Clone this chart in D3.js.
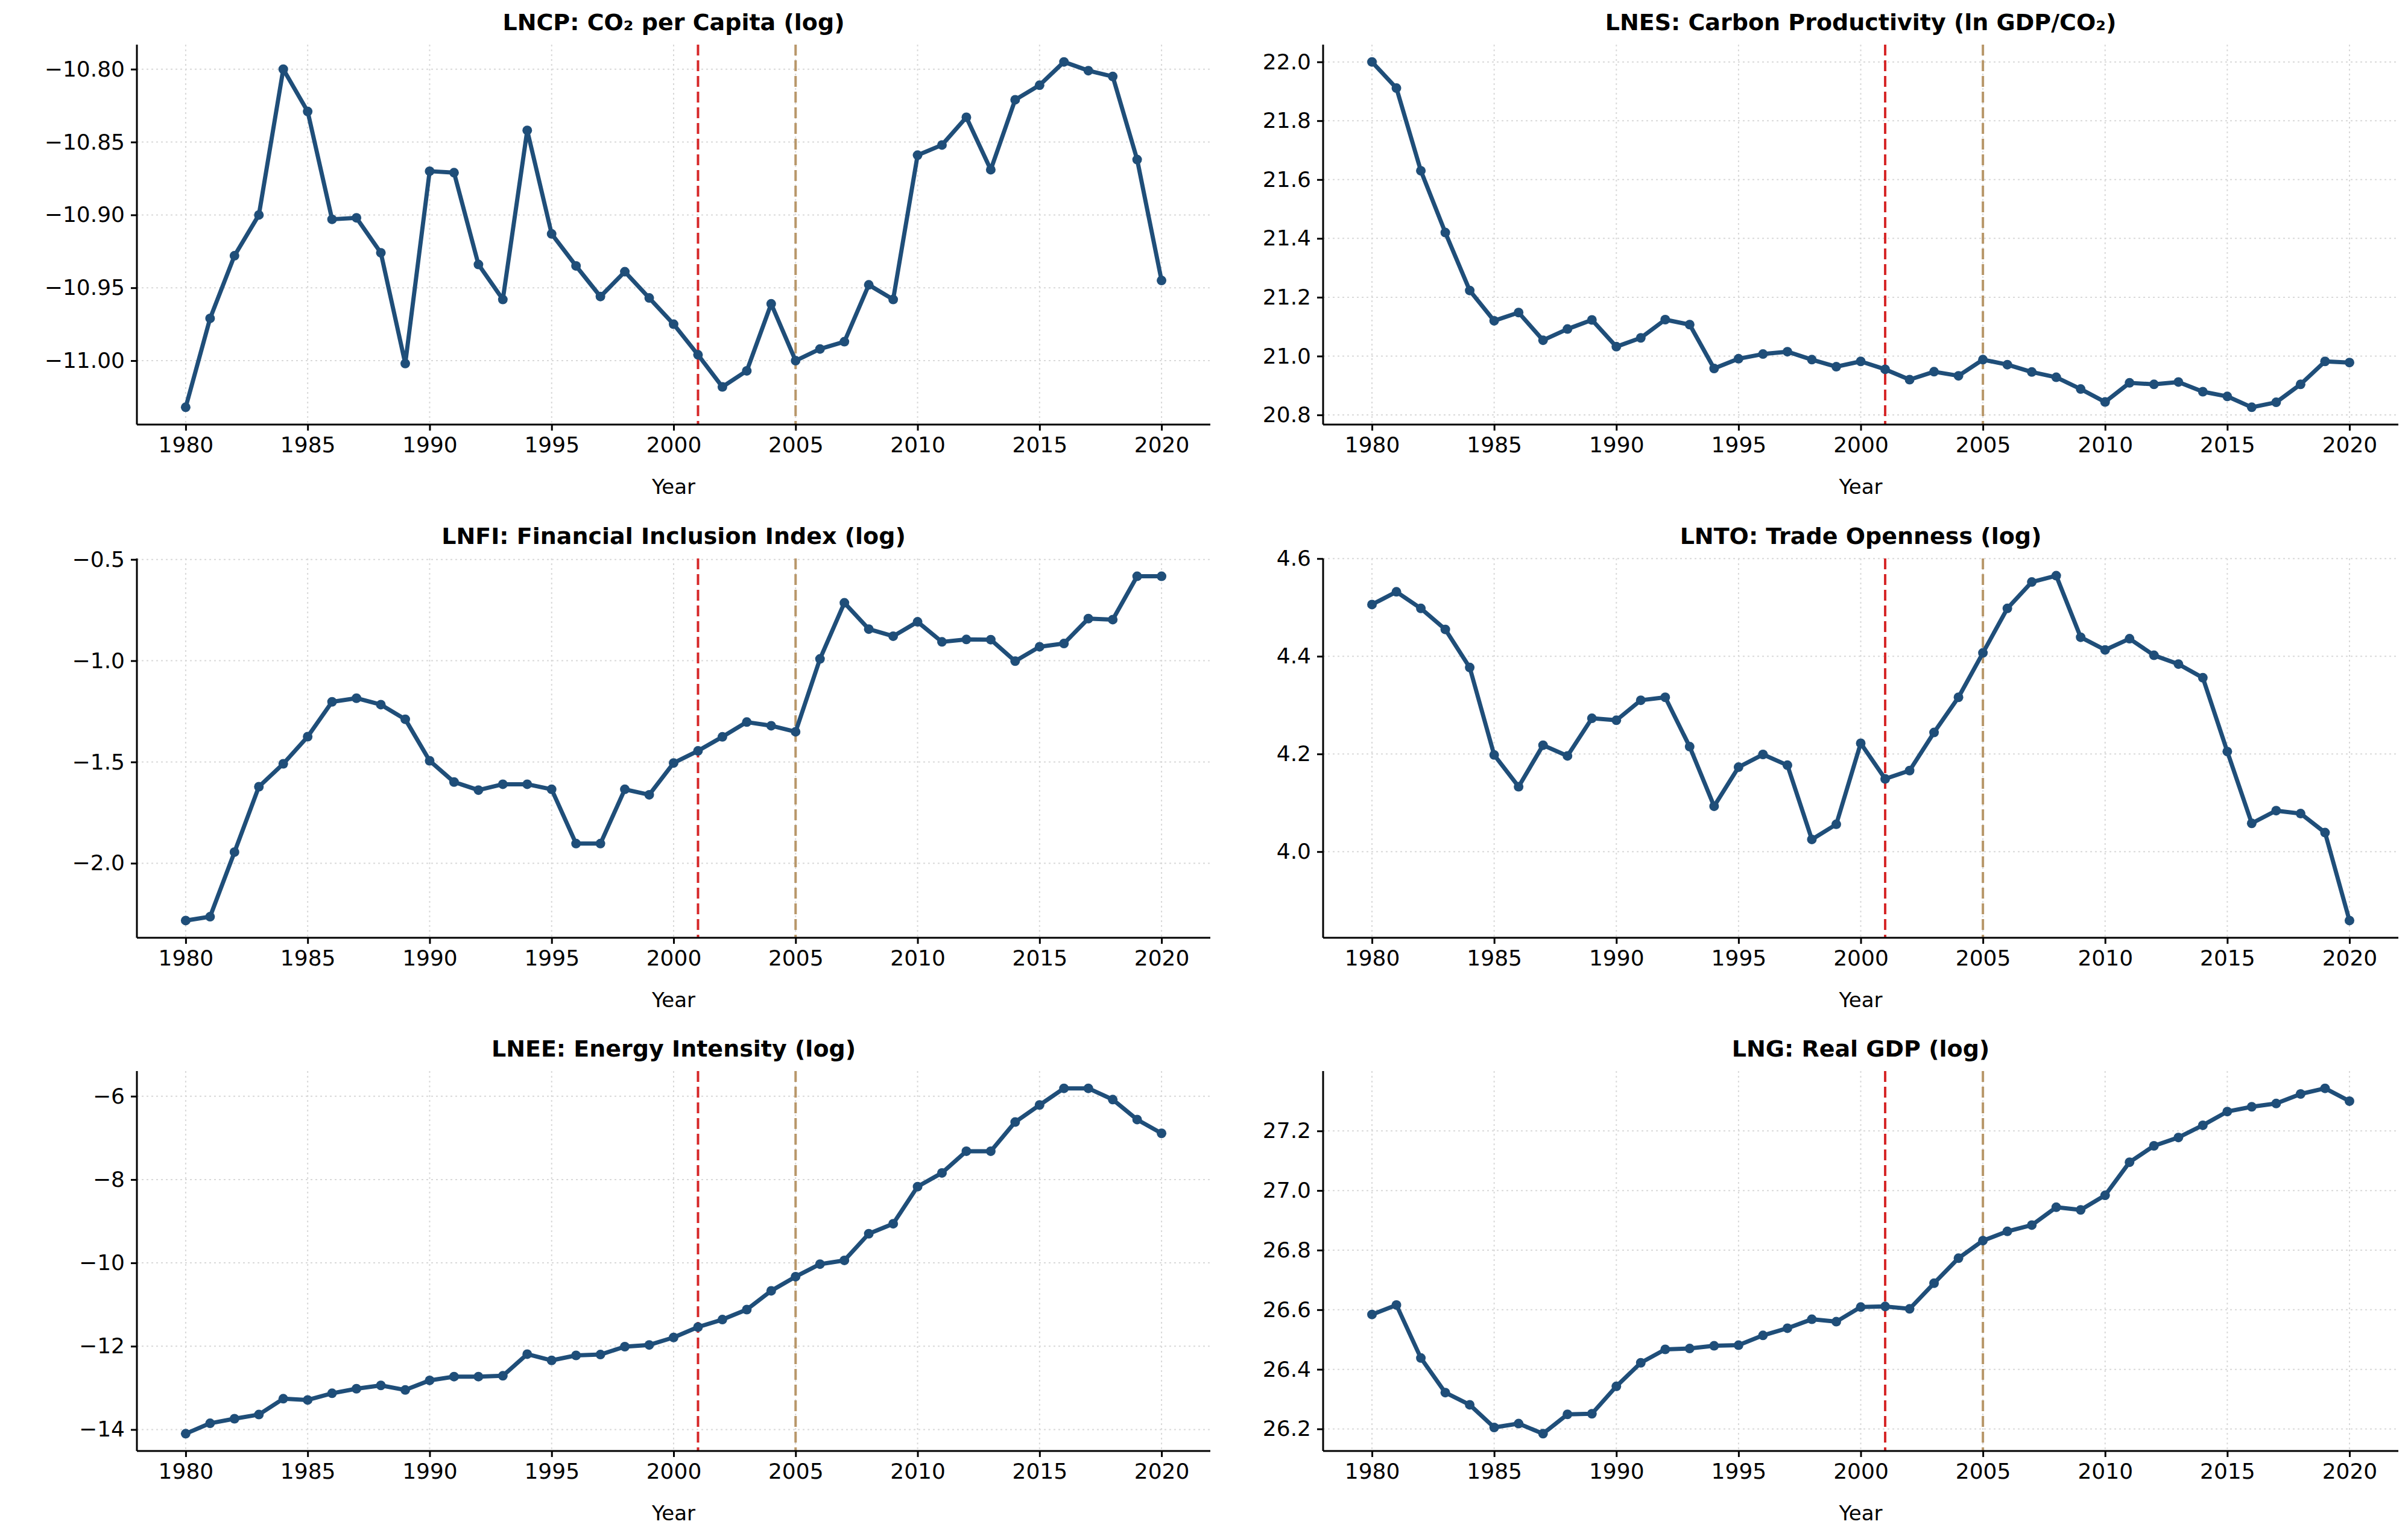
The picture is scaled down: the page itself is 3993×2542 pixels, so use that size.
<!DOCTYPE html>
<meta charset="utf-8">
<style>
body { margin: 0; background: #fff; }
text { font-family: "DejaVu Sans", sans-serif; }
.grid line { stroke: #d9d9d9; stroke-dasharray: 3,5; stroke-width: 2px; }
.axis path, .axis line { stroke: #000; stroke-width: 3px; }
.axis text { font-size: 36px; fill: #000; }
</style>
<svg width="3993" height="2542"></svg>
<script src="https://cdn.jsdelivr.net/npm/d3@7"></script>
<script>
var years = d3.range(1980, 2021);

var lncp = [-11.032,-10.971,-10.928,-10.900,-10.800,-10.829,-10.903,-10.902,-10.926,-11.002,
  -10.870,-10.871,-10.934,-10.958,-10.842,-10.913,-10.935,-10.956,-10.939,-10.957,
  -10.975,-10.996,-11.018,-11.007,-10.961,-11.000,-10.992,-10.987,-10.948,-10.958,
  -10.859,-10.852,-10.833,-10.869,-10.821,-10.811,-10.795,-10.801,-10.805,-10.862,-10.945];
var lnes = [22.000,21.911,21.630,21.420,21.223,21.120,21.148,21.054,21.092,21.123,
  21.032,21.062,21.124,21.107,20.958,20.991,21.007,21.015,20.988,20.964,
  20.982,20.955,20.920,20.947,20.933,20.988,20.971,20.946,20.928,20.888,
  20.844,20.909,20.904,20.912,20.879,20.863,20.826,20.843,20.904,20.982,20.978];
var lnfi = [-2.283,-2.264,-1.945,-1.622,-1.509,-1.375,-1.203,-1.185,-1.217,-1.289,
  -1.494,-1.599,-1.639,-1.610,-1.610,-1.635,-1.903,-1.903,-1.635,-1.662,
  -1.505,-1.445,-1.376,-1.303,-1.321,-1.351,-0.991,-0.714,-0.844,-0.879,
  -0.808,-0.907,-0.895,-0.896,-1.002,-0.931,-0.915,-0.792,-0.797,-0.583,-0.583];
var lnto = [4.506,4.532,4.498,4.455,4.377,4.198,4.133,4.218,4.196,4.273,
  4.269,4.310,4.316,4.215,4.093,4.173,4.199,4.177,4.025,4.056,
  4.222,4.149,4.166,4.244,4.316,4.407,4.498,4.552,4.565,4.439,
  4.413,4.436,4.402,4.384,4.356,4.205,4.058,4.084,4.078,4.039,3.859];
var lnee = [-14.10,-13.85,-13.74,-13.64,-13.26,-13.29,-13.13,-13.02,-12.94,-13.05,
  -12.82,-12.73,-12.73,-12.71,-12.19,-12.34,-12.22,-12.20,-12.01,-11.97,
  -11.79,-11.54,-11.36,-11.12,-10.67,-10.33,-10.03,-9.94,-9.30,-9.06,
  -8.17,-7.84,-7.32,-7.32,-6.62,-6.21,-5.81,-5.81,-6.08,-6.56,-6.89];
var lng = [26.584,26.616,26.438,26.322,26.281,26.205,26.218,26.184,26.249,26.251,
  26.343,26.422,26.467,26.470,26.479,26.481,26.514,26.538,26.568,26.560,
  26.609,26.611,26.603,26.689,26.773,26.832,26.863,26.884,26.944,26.935,
  26.984,27.095,27.150,27.178,27.219,27.265,27.281,27.292,27.324,27.343,27.300];

var titles = ["LNCP: CO\u2082 per Capita (log)", "LNES: Carbon Productivity (ln GDP/CO\u2082)",
  "LNFI: Financial Inclusion Index (log)", "LNTO: Trade Openness (log)",
  "LNEE: Energy Intensity (log)", "LNG: Real GDP (log)"];
var series = [lncp, lnes, lnfi, lnto, lnee, lng];
var yTicks = [[-11.00,-10.95,-10.90,-10.85,-10.80], [20.8,21.0,21.2,21.4,21.6,21.8,22.0],
  [-2.0,-1.5,-1.0,-0.5], [4.0,4.2,4.4,4.6], [-14,-12,-10,-8,-6], [26.2,26.4,26.6,26.8,27.0,27.2]];
var yFormats = [".2f", ".1f", ".1f", ".1f", "d", ".1f"];
var xTicks = [1980,1985,1990,1995,2000,2005,2010,2015,2020];
var breaks = [{year: 2001, color: "#d62728"}, {year: 2005, color: "#b8976a"}];

var svg = d3.select("svg");
var colX = [227, 2194], colW = [1780, 1783];
var rowY = [74, 926, 1776], rowH = [630, 629, 630];
var lineColor = "#1f4e79";

series.forEach(function(vals, i) {
  var c = i % 2, r = Math.floor(i / 2);
  var w = colW[c], h = rowH[r];
  var g = svg.append("g").attr("transform", "translate(" + colX[c] + "," + rowY[r] + ")");
  var x = d3.scaleLinear().domain([1978, 2022]).range([0, w]);
  var lo = d3.min(vals), hi = d3.max(vals), pad = (hi - lo) * 0.05;
  var y = d3.scaleLinear().domain([lo - pad, hi + pad]).range([h, 0]);
  if (i == 2) y.domain([lo - pad, -0.495]);

  // grid
  g.append("g").attr("class", "grid").selectAll("line").data(xTicks).enter().append("line")
    .attr("x1", x).attr("x2", x).attr("y1", 0).attr("y2", h);
  g.append("g").attr("class", "grid").selectAll("line").data(yTicks[i]).enter().append("line")
    .attr("x1", 0).attr("x2", w).attr("y1", y).attr("y2", y);

  // break lines
  breaks.forEach(function(b) {
    g.append("line").attr("x1", x(b.year)).attr("x2", x(b.year)).attr("y1", 0).attr("y2", h)
      .attr("stroke", b.color).attr("stroke-width", 4).attr("stroke-dasharray", "18,8");
  });

  var data = vals.map(function(v, k) { return {year: years[k], v: v}; });
  g.append("path").datum(data)
    .attr("fill", "none").attr("stroke", lineColor).attr("stroke-width", 7)
    .attr("stroke-linejoin", "round")
    .attr("d", d3.line().x(function(d) { return x(d.year); }).y(function(d) { return y(d.v); }));
  g.selectAll(".pt").data(data).enter().append("circle")
    .attr("class", "pt").attr("cx", function(d) { return x(d.year); })
    .attr("cy", function(d) { return y(d.v); }).attr("r", 8).attr("fill", lineColor);

  var xa = g.append("g").attr("class", "axis").attr("transform", "translate(0," + h + ")")
    .call(d3.axisBottom(x).tickValues(xTicks).tickFormat(d3.format("d")).tickSizeOuter(0).tickSize(10).tickPadding(10));
  var ya = g.append("g").attr("class", "axis")
    .call(d3.axisLeft(y).tickValues(yTicks[i]).tickFormat(function(d) {
      return d3.format(yFormats[i])(d).replace("-", "\u2212"); }).tickSizeOuter(0).tickSize(10).tickPadding(10));
  ya.select(".domain").attr("d", "M0,0V" + h);
  xa.select(".domain").attr("d", "M0,0H" + w);

  g.append("text").attr("x", w / 2).attr("y", -24).attr("text-anchor", "middle")
    .attr("font-size", 38).attr("font-weight", "bold").text(titles[i]);
  g.append("text").attr("x", w / 2).attr("y", h + 115).attr("text-anchor", "middle")
    .attr("font-size", 34).text("Year");
});
</script>
